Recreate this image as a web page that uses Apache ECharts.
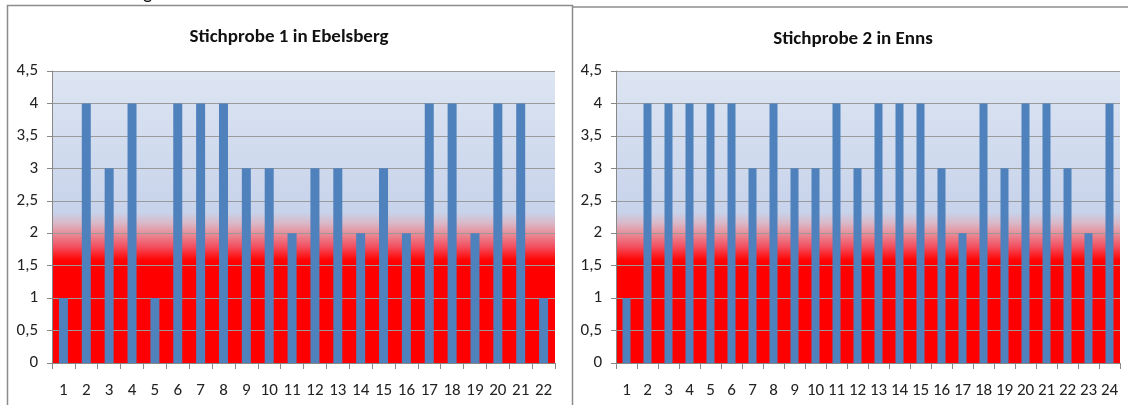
<!DOCTYPE html>
<html>
<head>
<meta charset="utf-8">
<script src="https://cdn.jsdelivr.net/npm/echarts@6/dist/echarts.min.js"></script>
<style>
  html, body { margin: 0; padding: 0; background: #fff; }
  #chart { width: 1128px; height: 405px; }
</style>
</head>
<body>
<div id="chart"></div>
<script>
// Data
const titles = ['Stichprobe 1 in Ebelsberg', 'Stichprobe 2 in Enns'];
const categories1 = ['1','2','3','4','5','6','7','8','9','10','11','12','13','14','15','16','17','18','19','20','21','22'];
const values1 = [1,4,3,4,1,4,4,4,3,3,2,3,3,2,3,2,4,4,2,4,4,1];
const categories2 = ['1','2','3','4','5','6','7','8','9','10','11','12','13','14','15','16','17','18','19','20','21','22','23','24'];
const values2 = [1,4,4,4,4,4,3,4,3,3,4,3,4,4,4,3,2,4,3,4,4,3,2,4];
const yTicks = [0, 0.5, 1, 1.5, 2, 2.5, 3, 3.5, 4, 4.5];

const FONT = 'Carlito, "Liberation Sans Narrow", "Open Sans", sans-serif';
const bg = {
  type: 'linear', x: 0, y: 0, x2: 0, y2: 1,
  colorStops: [
    { offset: 0, color: '#dde5f2' },
    { offset: 0.485, color: '#c7d3eb' },
    { offset: 0.522, color: '#d9b7c6' },
    { offset: 0.556, color: '#e98e9a' },
    { offset: 0.60, color: '#f25262' },
    { offset: 0.645, color: '#ff0808' },
    { offset: 0.66, color: '#ff0000' },
    { offset: 1, color: '#ff0000' }
  ]
};

function yAxis(gi) {
  return {
    gridIndex: gi, type: 'value', min: 0, max: 4.5, interval: 0.5,
    axisLine: { show: true, lineStyle: { color: '#888', width: 1 } },
    axisTick: { show: true, length: 5, lineStyle: { color: '#888' } },
    splitLine: { show: true, lineStyle: { color: '#9a9a9a', width: 1 } },
    axisLabel: { color: '#222', fontFamily: FONT, fontSize: 17, margin: 14,
      formatter: v => String(v).replace('.', ',') }
  };
}
function xAxis(gi, cats) {
  return {
    gridIndex: gi, type: 'category', data: cats,
    axisLine: { show: true, lineStyle: { color: '#888', width: 1 } },
    axisTick: { show: true, length: 6, alignWithLabel: false, lineStyle: { color: '#888' } },
    axisLabel: { color: '#222', fontFamily: FONT, fontSize: 17, margin: 19, interval: 0 }
  };
}

const chart = echarts.init(document.getElementById('chart'), null, { renderer: 'canvas' });
chart.setOption({
  animation: false,
  backgroundColor: '#fff',
  title: [
    { text: titles[0], left: 284, top: 23, textAlign: 'center',
      textStyle: { fontFamily: FONT, fontSize: 19, fontWeight: 'bold', color: '#111' } },
    { text: titles[1], left: 848, top: 25, textAlign: 'center',
      textStyle: { fontFamily: FONT, fontSize: 19, fontWeight: 'bold', color: '#111' } }
  ],
  graphic: [
    { type: 'text', left: 143, top: -16, style: { text: 'g', font: '20px ' + FONT, fill: '#111' } },
    { type: 'polyline', shape: { points: [[7.5, 405], [7.5, 5.5], [572.5, 5.5], [572.5, 405]] },
      style: { stroke: '#8c8c8c', lineWidth: 1.5, fill: null } },
    { type: 'polyline', shape: { points: [[572.5, 7], [1128, 7]] },
      style: { stroke: '#8c8c8c', lineWidth: 1.5, fill: null } }
  ],
  grid: [
    { left: 52, top: 71, width: 503, height: 292, show: true, backgroundColor: bg, borderWidth: 0 },
    { left: 616, top: 71, width: 504, height: 292, show: true, backgroundColor: bg, borderWidth: 0 }
  ],
  xAxis: [xAxis(0, categories1), xAxis(1, categories2)],
  yAxis: [yAxis(0), yAxis(1)],
  series: [
    { type: 'bar', xAxisIndex: 0, yAxisIndex: 0, data: values1, barWidth: 9,
      itemStyle: { color: '#4f81bd' } },
    { type: 'bar', xAxisIndex: 1, yAxisIndex: 1, data: values2, barWidth: 8,
      itemStyle: { color: '#4f81bd' } }
  ]
});
</script>
</body>
</html>
